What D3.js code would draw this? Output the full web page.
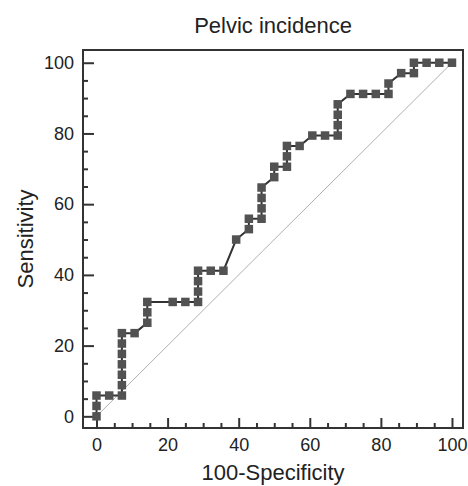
<!DOCTYPE html>
<html>
<head>
<meta charset="utf-8">
<script src="https://cdn.jsdelivr.net/npm/d3@7"></script>
<style>
  html, body { margin: 0; padding: 0; background: #fff; }
  svg { display: block; }
  text { font-family: "Liberation Sans", Arial, sans-serif; fill: #222; }
</style>
</head>
<body>
<svg id="chart" width="468" height="486"></svg>
<script>
// ROC curve points (100-Specificity, Sensitivity)
const fpr = [0, 0, 0, 3.57, 7.14, 7.14, 7.14, 7.14, 7.14, 7.14, 7.14, 10.71, 14.29, 14.29, 14.29,
  21.43, 25, 28.57, 28.57, 28.57, 28.57, 32.14, 35.71, 39.29, 42.86, 42.86, 46.43, 46.43, 46.43, 46.43,
  50, 50, 53.57, 53.57, 53.57, 57.14, 60.71, 64.29, 67.86, 67.86, 67.86, 67.86, 71.43, 75, 78.57,
  82.14, 82.14, 85.71, 89.29, 89.29, 92.86, 96.43, 100];
const tpr = [0, 2.94, 5.88, 5.88, 5.88, 8.82, 11.76, 14.71, 17.65, 20.59, 23.53, 23.53, 26.47, 29.41, 32.35,
  32.35, 32.35, 32.35, 35.29, 38.24, 41.18, 41.18, 41.18, 50, 52.94, 55.88, 55.88, 58.82, 61.76, 64.71,
  67.65, 70.59, 70.59, 73.53, 76.47, 76.47, 79.41, 79.41, 79.41, 82.35, 85.29, 88.24, 91.18, 91.18, 91.18,
  91.18, 94.12, 97.06, 97.06, 100, 100, 100, 100];
const majorTicks = [0, 20, 40, 60, 80, 100];
const minorTicks = [5, 10, 15, 25, 30, 35, 45, 50, 55, 65, 70, 75, 85, 90, 95];
const titleText = "Pelvic incidence";
const xLabel = "100-Specificity";
const yLabel = "Sensitivity";

const svg = d3.select("#chart");
const L = 83, R = 463, T = 50, B = 428;
const x = d3.scaleLinear().domain([-3.8, 103.1]).range([L, R]);
const y = d3.scaleLinear().domain([-3.3, 103.6]).range([B, T]);

// diagonal reference line
svg.append("line")
  .attr("x1", x(0)).attr("y1", y(0)).attr("x2", x(100)).attr("y2", y(100))
  .attr("stroke", "#b0b0b0").attr("stroke-width", 1);

// axes (ticks inward)
function styleAxis(g) {
  g.select(".domain").remove();
  g.selectAll(".tick line").attr("stroke", "#333").attr("stroke-width", 2);
  g.selectAll(".tick text").attr("font-size", 18).attr("fill", "#222")
    .style("font-family", '"Liberation Sans", Arial, sans-serif');
}
svg.append("g").attr("transform", `translate(${L},0)`)
  .call(d3.axisLeft(y).tickValues(majorTicks).tickSize(-11).tickPadding(9).tickFormat(d3.format("d")))
  .call(styleAxis);
svg.append("g").attr("transform", `translate(${L},0)`)
  .call(d3.axisLeft(y).tickValues(minorTicks).tickSize(-5).tickFormat(""))
  .call(styleAxis);
svg.append("g").attr("transform", `translate(0,${B})`)
  .call(d3.axisBottom(x).tickValues(majorTicks).tickSize(-10).tickPadding(10).tickFormat(d3.format("d")))
  .call(styleAxis);
svg.append("g").attr("transform", `translate(0,${B})`)
  .call(d3.axisBottom(x).tickValues(minorTicks).tickSize(-5).tickFormat(""))
  .call(styleAxis);

// frame
svg.append("rect").attr("x", L).attr("y", T).attr("width", R - L).attr("height", B - T)
  .attr("fill", "none").attr("stroke", "#333").attr("stroke-width", 2);

// ROC curve
const pts = fpr.map((v, i) => [v, tpr[i]]);
svg.append("path")
  .datum(pts)
  .attr("fill", "none").attr("stroke", "#333").attr("stroke-width", 2)
  .attr("d", d3.line().x(d => x(d[0])).y(d => y(d[1])));

const ms = 8.5;
svg.append("g").selectAll("rect").data(pts).join("rect")
  .attr("x", d => x(d[0]) - ms / 2).attr("y", d => y(d[1]) - ms / 2)
  .attr("width", ms).attr("height", ms)
  .attr("fill", "#525252");

// titles
svg.append("text").attr("x", (L + R) / 2).attr("y", 33)
  .attr("text-anchor", "middle").attr("font-size", 22).text(titleText);
svg.append("text").attr("x", (L + R) / 2).attr("y", 480)
  .attr("text-anchor", "middle").attr("font-size", 22).text(xLabel);
svg.append("text").attr("transform", `translate(33,${(T + B) / 2}) rotate(-90)`)
  .attr("text-anchor", "middle").attr("font-size", 22).text(yLabel);
</script>
</body>
</html>
